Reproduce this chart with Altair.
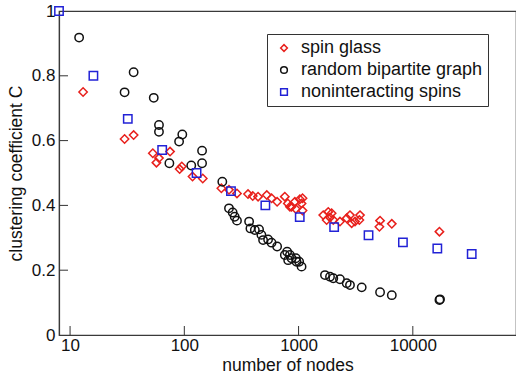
import altair as alt
import pandas as pd

# spin glass
sg_n = [13, 30, 36, 53, 57, 60, 75, 91, 95, 118, 145, 211, 246, 289, 361, 397, 442, 527, 580, 649,
        758, 805, 868, 928, 947, 1026, 1083, 1062, 1083, 840, 1644, 1820, 1884, 1947, 1761, 2013,
        2303, 2637, 2818, 2916, 3118, 3450, 3404, 5168, 5099, 6546, 17100]
sg_c = [0.750, 0.605, 0.617, 0.561, 0.532, 0.546, 0.566, 0.512, 0.520, 0.489, 0.483, 0.453, 0.448,
        0.437, 0.435, 0.429, 0.427, 0.432, 0.422, 0.411, 0.427, 0.406, 0.396, 0.411, 0.389, 0.419,
        0.422, 0.406, 0.384, 0.396, 0.370, 0.380, 0.363, 0.376, 0.355, 0.355, 0.350, 0.360, 0.370,
        0.345, 0.350, 0.370, 0.355, 0.353, 0.334, 0.343, 0.319]

# random bipartite graph
rb_n = [12, 36, 30, 54, 60, 60, 74, 90, 96, 115, 143, 143, 215, 246, 265, 276, 289, 369, 379, 414,
        451, 473, 489, 541, 580, 649, 758, 794, 811, 840, 868, 947, 960, 1012, 1062, 1702, 1884,
        2013, 2303, 2637, 2818, 3570, 5168, 6546, 17100, 17300]
rb_c = [0.918, 0.811, 0.749, 0.732, 0.648, 0.627, 0.530, 0.597, 0.619, 0.523, 0.569, 0.530, 0.473,
        0.391, 0.378, 0.365, 0.353, 0.350, 0.329, 0.324, 0.326, 0.309, 0.293, 0.295, 0.285, 0.273,
        0.247, 0.257, 0.231, 0.247, 0.237, 0.237, 0.226, 0.226, 0.211, 0.185, 0.180, 0.175, 0.172,
        0.160, 0.154, 0.147, 0.132, 0.123, 0.108, 0.110]

# noninteracting spins
ni_n = [8, 16, 32, 64, 128, 256, 512, 1024, 2048, 4096, 8192, 16384, 32768]
ni_c = [1.0, 0.80, 0.667, 0.571, 0.50, 0.444, 0.40, 0.364, 0.333, 0.308, 0.286, 0.267, 0.25]

series = ["spin glass", "random bipartite graph", "noninteracting spins"]
shapes = ["diamond", "circle", "square"]
colors = ["#e8201c", "#111111", "#2222d6"]

x_ticks = [10, 100, 1000, 10000]
y_ticks = [0, 0.2, 0.4, 0.6, 0.8, 1.0]

rows = []
for name, ns, cs in [(series[0], sg_n, sg_c), (series[1], rb_n, rb_c), (series[2], ni_n, ni_c)]:
    for n, c in zip(ns, cs):
        rows.append({"n": n, "C": c, "series": name})
df = pd.DataFrame(rows)

FONT = "Liberation Sans"
xscale = alt.Scale(type="log", domain=[8, 80000], nice=False)
yscale = alt.Scale(domain=[0, 1], nice=False)

legend = alt.Legend(title=None, orient="none", legendX=208, legendY=23,
                    strokeColor="#333333", fillColor="white", padding=5,
                    rowPadding=4, labelFontSize=18, labelFont=FONT, labelColor="#111111",
                    labelLimit=400, symbolSize=45, symbolStrokeWidth=1.5, symbolOffset=3,
                    labelOffset=8)

points = alt.Chart(df).mark_point(filled=False, size=70, strokeWidth=1.5, opacity=1).encode(
    x=alt.X("n:Q", scale=xscale,
            axis=alt.Axis(values=x_ticks, format="d", title="number of nodes", tickSize=0,
                          labelPadding=2, titlePadding=3, grid=False)),
    y=alt.Y("C:Q", scale=yscale,
            axis=alt.Axis(values=y_ticks, format="~g", title="clustering coefficient C",
                          tickSize=0, labelPadding=4, titlePadding=6, grid=False)),
    shape=alt.Shape("series:N", scale=alt.Scale(domain=series, range=shapes), sort=series,
                    legend=legend),
    color=alt.Color("series:N", scale=alt.Scale(domain=series, range=colors), sort=series,
                    legend=legend),
)

xt = pd.DataFrame({"t": x_ticks})
yt = pd.DataFrame({"t": y_ticks[1:-1]})

xtick_rules = alt.Chart(xt).mark_rule(color="#333333", strokeWidth=1).encode(
    x=alt.X("t:Q", scale=xscale), y=alt.value(324), y2=alt.value(315))
ytick_rules = alt.Chart(yt).mark_rule(color="#333333", strokeWidth=1).encode(
    y=alt.Y("t:Q", scale=yscale), x=alt.value(0), x2=alt.value(9))

chart = alt.layer(xtick_rules, ytick_rules, points).properties(
    width=457, height=324,
    autosize=alt.AutoSizeParams(type="none"),
    padding={"left": 59, "top": 11, "right": 0, "bottom": 42},
).configure_view(stroke="#3a3a3a", strokeWidth=1.2).configure_axis(
    domainColor="#3a3a3a", domainWidth=1.2, labelFont=FONT, titleFont=FONT,
    labelFontSize=17, titleFontSize=17.5, titleFontWeight="normal", labelColor="#111111",
    titleColor="#111111"
)

chart.save("out.html", embed_options={"renderer": "svg", "actions": False})
